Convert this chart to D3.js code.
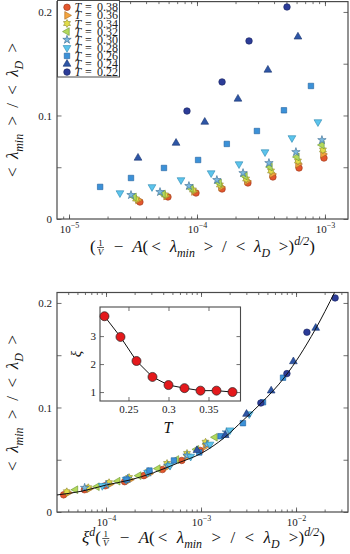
<!DOCTYPE html>
<html>
<head>
<meta charset="utf-8">
<script src="https://cdn.jsdelivr.net/npm/d3@7"></script>
<style>
  body { margin: 0; background: #fff; }
</style>
</head>
<body>
<div id="chart"></div>
<script>
// temperatures, in legend order, and the correlation length xi(T) from the inset
const temps = [0.38, 0.36, 0.34, 0.32, 0.30, 0.28, 0.26, 0.24, 0.22];
const xiValues = [1.00, 1.05, 1.05, 1.14, 1.25, 1.54, 2.11, 2.97, 3.71];
const dim = 3;

// top panel: (1/V - A(...)^{d/2}) vs <lambda_min>/<lambda_D>
const x038 = [3.58e-5, 5.93e-5, 9.82e-5, 1.57e-4, 2.50e-4, 3.92e-4, 6.27e-4, 9.82e-4];
const y038 = [0.0164, 0.0213, 0.0251, 0.0290, 0.0348, 0.0406, 0.0493, 0.0589];
const x036 = [3.46e-5, 5.73e-5, 9.46e-5, 1.54e-4, 2.46e-4, 3.86e-4, 6.15e-4, 9.64e-4];
const y036 = [0.0184, 0.0222, 0.0266, 0.0309, 0.0367, 0.0435, 0.0531, 0.0628];
const x034 = [3.34e-5, 5.62e-5, 9.30e-5, 1.51e-4, 2.42e-4, 3.79e-4, 6.15e-4, 9.64e-4];
const y034 = [0.0193, 0.0232, 0.0280, 0.0329, 0.0386, 0.0464, 0.0560, 0.0667];
const x032 = [3.22e-5, 5.42e-5, 8.97e-5, 1.49e-4, 2.37e-4, 3.72e-4, 6.04e-4, 9.47e-4];
const y032 = [0.0213, 0.0242, 0.0295, 0.0348, 0.0415, 0.0502, 0.0599, 0.0715];
const x030 = [3.05e-5, 5.14e-5, 8.65e-5, 1.43e-4, 2.29e-4, 3.65e-4, 5.93e-4, 9.47e-4];
const y030 = [0.0232, 0.0261, 0.0319, 0.0377, 0.0444, 0.0541, 0.0647, 0.0763];
const x028 = [2.50e-5, 4.45e-5, 7.50e-5, 1.29e-4, 2.13e-4, 3.40e-4, 5.52e-4, 8.81e-4];
const y028 = [0.0251, 0.0310, 0.0377, 0.0444, 0.0531, 0.0647, 0.0783, 0.0937];
const x026 = [1.75e-5, 3.05e-5, 5.52e-5, 1.02e-4, 1.71e-4, 2.94e-4, 4.78e-4, 7.77e-4];
const y026 = [0.0310, 0.0396, 0.0493, 0.0570, 0.0725, 0.0850, 0.1050, 0.1285];
const x024 = [3.46e-5, 6.86e-5, 1.15e-4, 2.09e-4, 3.58e-4, 6.15e-4];
const y024 = [0.0590, 0.0734, 0.0937, 0.1160, 0.1440, 0.1760];
const x022 = [8.35e-5, 1.57e-4, 2.55e-4, 5.05e-4];
const y022 = [0.1043, 0.1324, 0.1720, 0.2048];

const seriesX = [x038, x036, x034, x032, x030, x028, x026, x024, x022];
const seriesY = [y038, y036, y034, y032, y030, y028, y026, y024, y022];

// fitted master curve of the bottom panel
const curveX = [3.05e-5, 5.62e-5, 1.0e-4, 1.78e-4, 3.16e-4, 5.62e-4, 1.0e-3, 1.78e-3, 2.79e-3, 4.28e-3, 7.66e-3, 1.58e-2, 2.57e-2];
const curveY = [0.0163, 0.0200, 0.0258, 0.0306, 0.0376, 0.0466, 0.0560, 0.0715, 0.0880, 0.1040, 0.1295, 0.1740, 0.2108];

const yTickValues = [0, 0.05, 0.1, 0.15, 0.2];
const yTickLabels = ['0', '', '0.1', '', '0.2'];
const insetXTicks = [0.25, 0.3, 0.35];
const insetYTicks = [1, 2, 3];

const axisColor = '#4a4a4a';
const serif = '"Liberation Serif", "DejaVu Serif", serif';

const markerStyle = {
  0.38: {shape: 'circle', size: 34, fill: '#e4572e', stroke: '#9b3418'},
  0.36: {shape: 'right', size: 26, fill: '#f4a43e', stroke: '#a8681c'},
  0.34: {shape: 'hexagram', size: 4, fill: '#e2dc48', stroke: '#8a8630'},
  0.32: {shape: 'left', size: 26, fill: '#b4da5c', stroke: '#6a9430'},
  0.3: {shape: 'star', size: 22, fill: '#7ab8de', stroke: '#36688e'},
  0.28: {shape: 'down', size: 26, fill: '#5cc4ec', stroke: '#2a86b0'},
  0.26: {shape: 'square', size: 30, fill: '#3b91d8', stroke: '#20609e'},
  0.24: {shape: 'up', size: 26, fill: '#2e56a6', stroke: '#1a346e'},
  0.22: {shape: 'circle', size: 34, fill: '#2c3c98', stroke: '#18245e'}
};

// 12-vertex hexagram (MATLAB 'h' marker)
const symbolHexagram = {
  draw(ctx, r) {
    for (let k = 0; k < 12; k++) {
      const a = -Math.PI / 2 + k * Math.PI / 6;
      const rr = k % 2 ? r / Math.sqrt(3) : r;
      k ? ctx.lineTo(rr * Math.cos(a), rr * Math.sin(a)) : ctx.moveTo(rr * Math.cos(a), rr * Math.sin(a));
    }
    ctx.closePath();
  }
};

function markerPath(st) {
  const types = {circle: d3.symbolCircle, square: d3.symbolSquare, star: d3.symbolStar, hexagram: symbolHexagram};
  return d3.symbol(types[st.shape] || d3.symbolTriangle, st.size)();
}
function markerRot(st) {
  return {right: 90, left: -90, down: 180}[st.shape] || 0;
}

const svg = d3.select('#chart').append('svg')
  .attr('width', 350).attr('height', 554)
  .style('font-family', serif);

const xTop = d3.scaleLog().domain([10 ** -5.094, 10 ** -2.82]).range([57, 348]);
const yTop = d3.scaleLinear().domain([0, 0.21]).range([219, 1.6]);
const xBot = d3.scaleLog().domain([10 ** -4.516, 10 ** -1.453]).range([57, 348]);
const yBot = d3.scaleLinear().domain([0, 0.21]).range([512, 292.5]);
const xIn = d3.scaleLinear().domain([0.2144, 0.39]).range([100, 240.5]);
const yIn = d3.scaleLinear().domain([0.68, 4.04]).range([401, 307]);

// rich text: pieces {s, it, sub, sup, dx}; dx is scaled by k
function rich(text, pieces, size, k) {
  let shift = 0;
  pieces.forEach(p => {
    const t = text.append('tspan').text(p.s);
    if (p.it) t.attr('font-style', 'italic');
    const target = p.sub ? size * 0.28 : p.sup ? -size * 0.42 : 0;
    if (target !== shift) { t.attr('dy', target - shift); shift = target; }
    if (p.sub || p.sup) t.attr('font-size', size * 0.7);
    if (p.dx) t.attr('dx', p.dx * k);
  });
}

// stretch the gaps so the text is `width` wide
function fitRich(text, pieces, size, width) {
  rich(text, pieces, size, 1);
  const w = text.node().getBBox().width;
  const gaps = d3.sum(pieces, p => p.dx || 0);
  text.selectAll('tspan').remove();
  rich(text, pieces, size, 1 + (width - w) / gaps);
}

function addAxis(g, axis, tx, ty) {
  return g.append('g')
    .attr('transform', `translate(${tx},${ty})`)
    .call(axis.tickSizeOuter(0))
    .call(a => a.select('.domain').remove())
    .attr('color', axisColor)
    .attr('font-family', serif)
    .attr('font-size', 11)
    .call(a => a.selectAll('.tick line').attr('stroke-width', 0.8))
    .call(a => a.selectAll('.tick text').attr('fill', '#1a1a1a'));
}

function powerLabels(a) {
  a.selectAll('.tick text').each(function (d) {
    const t = d3.select(this).text(null);
    t.append('tspan').text('10');
    t.append('tspan').attr('dy', -5).attr('font-size', 8).text('\u2212' + Math.round(-Math.log10(d)));
  });
}

function drawPanel(x, y) {
  const [x0, x1] = x.range();
  const [y0, y1] = y.range();
  const g = svg.append('g');
  const all = x.ticks();
  const majors = all.filter(d => Math.abs(Math.log10(d) - Math.round(Math.log10(d))) < 1e-6);
  addAxis(g, d3.axisBottom(x).tickValues(all).tickSize(-2.5).tickFormat(''), 0, y0);
  addAxis(g, d3.axisTop(x).tickValues(all).tickSize(-2.5).tickFormat(''), 0, y1);
  addAxis(g, d3.axisBottom(x).tickValues(majors).tickSize(-4.5).tickPadding(6), 0, y0).call(powerLabels);
  addAxis(g, d3.axisTop(x).tickValues(majors).tickSize(-4.5).tickFormat(''), 0, y1);
  addAxis(g, d3.axisLeft(y).tickValues(yTickValues).tickSize(-4.5).tickPadding(5)
    .tickFormat((d, i) => yTickLabels[i]), x0, 0);
  addAxis(g, d3.axisRight(y).tickValues(yTickValues).tickSize(-4.5).tickFormat(''), x1, 0);
  g.append('rect')
    .attr('x', x0).attr('y', y1).attr('width', x1 - x0).attr('height', y0 - y1)
    .attr('fill', 'none').attr('stroke', axisColor).attr('stroke-width', 1.2);
  return g;
}

const ratioPieces = [
  {s: '<'}, {s: '\u03bb', it: 1, dx: 3}, {s: 'min', it: 1, sub: 1}, {s: '>', dx: 3},
  {s: '/', dx: 3}, {s: '<', dx: 3}, {s: '\u03bb', it: 1, dx: 3}, {s: 'D', it: 1, sub: 1}, {s: '>', dx: 3}
];

function yLabel(cx, cy, len) {
  const t = svg.append('text')
    .attr('transform', `translate(${cx},${cy}) rotate(-90)`)
    .attr('text-anchor', 'middle').attr('font-size', 17).attr('fill', '#111');
  fitRich(t, ratioPieces, 17, len);
}

function xLabel(x0, x1, base, withXi) {
  const g = svg.append('g').attr('font-size', 17).attr('fill', '#111');
  let x = 0;
  const put = pieces => {
    const t = g.append('text').attr('x', x).attr('y', base);
    rich(t, pieces, 17, 1);
    const b = t.node().getBBox();
    x = b.x + b.width;
  };
  if (withXi) put([{s: '\u03be', it: 1}, {s: 'd', it: 1, sup: 1}]);
  put([{s: '('}]);
  const fx = x + 1;
  g.append('text').attr('x', fx + 3.5).attr('y', base - 6).attr('text-anchor', 'middle')
    .attr('font-size', 9).text('1');
  g.append('line').attr('x1', fx).attr('x2', fx + 7).attr('y1', base - 4.5).attr('y2', base - 4.5)
    .attr('stroke', '#111').attr('stroke-width', 0.7);
  g.append('text').attr('x', fx + 3.5).attr('y', base + 2.5).attr('text-anchor', 'middle')
    .attr('font-size', 9).attr('font-style', 'italic').text('V');
  x = fx + 8;
  const rest = g.append('text').attr('x', x).attr('y', base);
  fitRich(rest, [
    {s: '\u2212', dx: 3}, {s: 'A', it: 1, dx: 3}, {s: '('}, {s: '<', dx: 1},
    {s: '\u03bb', it: 1, dx: 3}, {s: 'min', it: 1, sub: 1}, {s: '>', dx: 3}, {s: '/', dx: 3},
    {s: '<', dx: 3}, {s: '\u03bb', it: 1, dx: 3}, {s: 'D', it: 1, sub: 1}, {s: '>', dx: 3},
    {s: ')'}, {s: 'd/2', it: 1, sup: 1}, {s: ')'}
  ], 17, (x1 - x0) - x);
  g.attr('transform', `translate(${x0},0)`);
}

function drawMarkers(g, xs, ys, st, xScale, yScale) {
  g.selectAll(null)
    .data(d3.zip(xs, ys))
    .join('path')
    .attr('d', markerPath(st))
    .attr('transform', d => `translate(${xScale(d[0])},${yScale(d[1])}) rotate(${markerRot(st)})`)
    .attr('fill', st.fill)
    .attr('stroke', st.stroke)
    .attr('stroke-width', 0.6);
}

// ---------- top panel ----------
drawPanel(xTop, yTop);
const topMarks = svg.append('g');
temps.forEach((t, i) => drawMarkers(topMarks, seriesX[i], seriesY[i], markerStyle[t], xTop, yTop));

// legend
const legend = svg.append('g');
legend.append('rect').attr('x', 57.5).attr('y', 0.5).attr('width', 62).attr('height', 76.5)
  .attr('fill', '#fff').attr('stroke', axisColor).attr('stroke-width', 1);
temps.forEach((t, i) => {
  const st = markerStyle[t];
  const cy = 7.3 + i * 8.1;
  legend.append('path').attr('d', markerPath(st))
    .attr('transform', `translate(67,${cy}) rotate(${markerRot(st)})`)
    .attr('fill', st.fill).attr('stroke', st.stroke).attr('stroke-width', 0.6);
  const txt = legend.append('text').attr('y', cy + 4).attr('font-size', 12).attr('fill', '#222');
  txt.append('tspan').attr('x', 74.5).attr('font-style', 'italic').text('T');
  txt.append('tspan').attr('x', 85).text('=');
  txt.append('tspan').attr('x', 97).text(t.toFixed(2));
});

yLabel(18, 110, 134);
xLabel(90, 312, 252, false);

// ---------- bottom panel ----------
drawPanel(xBot, yBot);
svg.append('clipPath').attr('id', 'clipBot').append('rect')
  .attr('x', 57).attr('y', 292.5).attr('width', 291).attr('height', 219.5);
const botMarks = svg.append('g').attr('clip-path', 'url(#clipBot)');
temps.forEach((t, i) => {
  const scaled = seriesX[i].map(v => v * xiValues[i] ** dim);
  drawMarkers(botMarks, scaled, seriesY[i], markerStyle[t], xBot, yBot);
});
botMarks.append('path')
  .datum(d3.zip(curveX, curveY))
  .attr('d', d3.line().x(d => xBot(d[0])).y(d => yBot(d[1])).curve(d3.curveMonotoneX))
  .attr('fill', 'none').attr('stroke', '#111').attr('stroke-width', 1);

yLabel(18, 403, 136);
xLabel(82, 322, 543, true);

// ---------- inset ----------
const inset = svg.append('g');
inset.append('rect').attr('x', 100).attr('y', 307).attr('width', 140.5).attr('height', 94)
  .attr('fill', '#fff').attr('stroke', 'none');
addAxis(inset, d3.axisBottom(xIn).tickValues(insetXTicks).tickSize(-4).tickPadding(4).tickFormat(String), 0, 401);
addAxis(inset, d3.axisTop(xIn).tickValues(insetXTicks).tickSize(-4).tickFormat(''), 0, 307);
addAxis(inset, d3.axisLeft(yIn).tickValues(insetYTicks).tickSize(-4).tickPadding(4).tickFormat(String), 100, 0);
addAxis(inset, d3.axisRight(yIn).tickValues(insetYTicks).tickSize(-4).tickFormat(''), 240.5, 0);
inset.append('rect').attr('x', 100).attr('y', 307).attr('width', 140.5).attr('height', 94)
  .attr('fill', 'none').attr('stroke', axisColor).attr('stroke-width', 1.1);
const xiPoints = d3.zip(temps, xiValues);
inset.append('path').datum(xiPoints)
  .attr('d', d3.line().x(d => xIn(d[0])).y(d => yIn(d[1])))
  .attr('fill', 'none').attr('stroke', '#111').attr('stroke-width', 1);
inset.selectAll('circle').data(xiPoints).join('circle')
  .attr('cx', d => xIn(d[0])).attr('cy', d => yIn(d[1])).attr('r', 4.5)
  .attr('fill', '#e4191c').attr('stroke', '#222').attr('stroke-width', 0.7);
inset.append('text').attr('x', 168).attr('y', 433).attr('text-anchor', 'middle')
  .attr('font-size', 16).attr('font-style', 'italic').attr('fill', '#111').text('T');
inset.append('text').attr('transform', 'translate(81,354) rotate(-90)').attr('text-anchor', 'middle')
  .attr('font-size', 15).attr('font-style', 'italic').attr('fill', '#111').text('\u03be');
</script>
</body>
</html>
